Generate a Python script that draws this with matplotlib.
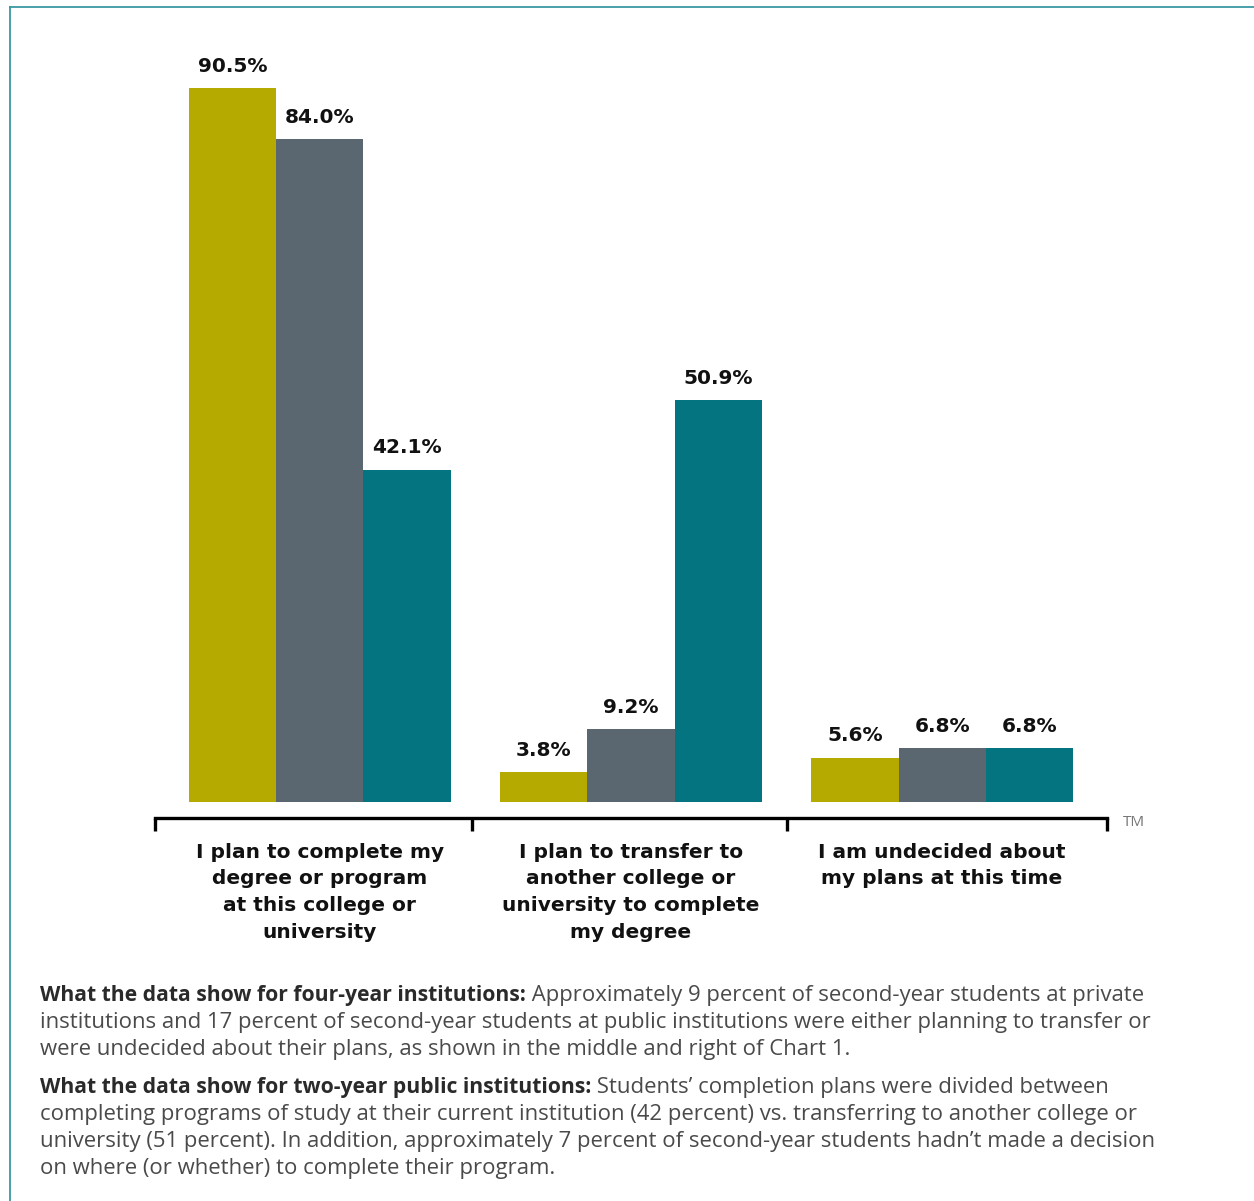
import matplotlib.pyplot as plt
from matplotlib.lines import Line2D
import numpy as np

categories = ['I plan to complete my\ndegree or program\nat this college or\nuniversity',
              'I plan to transfer to\nanother college or\nuniversity to complete\nmy degree',
              'I am undecided about\nmy plans at this time']
series_names = ['Four-year private', 'Four-year public', 'Two-year public']
four_year_private = [90.5, 3.8, 5.6]
four_year_public = [84.0, 9.2, 6.8]
two_year_public = [42.1, 50.9, 6.8]
colors = ['#b5ab00', '#5b6770', '#037480']

para1_bold = 'What the data show for four-year institutions:'
para1_lines = [' Approximately 9 percent of second-year students at private',
               'institutions and 17 percent of second-year students at public institutions were either planning to transfer or',
               'were undecided about their plans, as shown in the middle and right of Chart 1.']
para2_bold = 'What the data show for two-year public institutions:'
para2_lines = [' Students\u2019 completion plans were divided between',
               'completing programs of study at their current institution (42 percent) vs. transferring to another college or',
               'university (51 percent). In addition, approximately 7 percent of second-year students hadn\u2019t made a decision',
               'on where (or whether) to complete their program.']

plt.rcParams['font.family'] = ['Open Sans', 'DejaVu Sans']

W, H = 1254, 1201
fig = plt.figure(figsize=(W / 100, H / 100), dpi=100)

def fx(px):
    return px / W

def fy(py):
    return 1 - py / H

# axes: x from 155 to 1107 px, y from 40 to 818 px
ax = fig.add_axes([fx(155), fy(818), fx(1107 - 155), (818 - 40) / H])
x = np.arange(len(categories))
width = 0.28
for i, (vals, c) in enumerate(zip([four_year_private, four_year_public, two_year_public], colors)):
    bars = ax.bar(x + (i - 1) * width, vals, width, color=c, label=series_names[i])
    ax.bar_label(bars, labels=[f'{v:.1f}%' for v in vals], padding=9,
                 fontsize=14.5, fontweight='bold', color='#111111', family='DejaVu Sans')

ax.set_xlim(-0.53, 2.53)
ax.set_ylim(-2.03, 96.6)
for s in ['top', 'right', 'left']:
    ax.spines[s].set_visible(False)
ax.spines['bottom'].set_linewidth(2.4)
ax.set_yticks([])
ax.set_xticks([-0.53, 0.49, 1.5, 2.53])
ax.set_xticklabels([])
ax.tick_params(axis='x', direction='out', length=9, width=2.4, color='black')
ax.set_xticks(x, minor=True)
ax.set_xticklabels(categories, minor=True, fontsize=14.5, fontweight='bold',
                   color='#111111', linespacing=1.5, family='DejaVu Sans')
ax.tick_params(axis='x', which='minor', length=0, pad=18)

fig.text(fx(1123), fy(822), 'TM', fontsize=11, color='#777777', va='center', ha='left')

# frame lines
fig.add_artist(Line2D([fx(10), fx(10)], [0, fy(7)], transform=fig.transFigure, color='#3a97a3', lw=1.3))
fig.add_artist(Line2D([fx(10), 1], [fy(7), fy(7)], transform=fig.transFigure, color='#3a97a3', lw=1.3))

# text paragraphs
renderer = fig.canvas.get_renderer()
def paragraph(bold, lines, y0):
    t = fig.text(fx(40), fy(y0), bold, fontsize=15.2, fontweight='bold', color='#2a2a2a', va='baseline')
    bb = t.get_window_extent(renderer=renderer)
    fig.text(bb.x1 / W, fy(y0), lines[0], fontsize=15.9, color='#4a4a4a', va='baseline')
    for k, line in enumerate(lines[1:], start=1):
        fig.text(fx(40), fy(y0 + 27 * k), line, fontsize=15.9, color='#4a4a4a', va='baseline')

paragraph(para1_bold, para1_lines, 1001)
paragraph(para2_bold, para2_lines, 1093)

fig.savefig('out.png', dpi=100)
